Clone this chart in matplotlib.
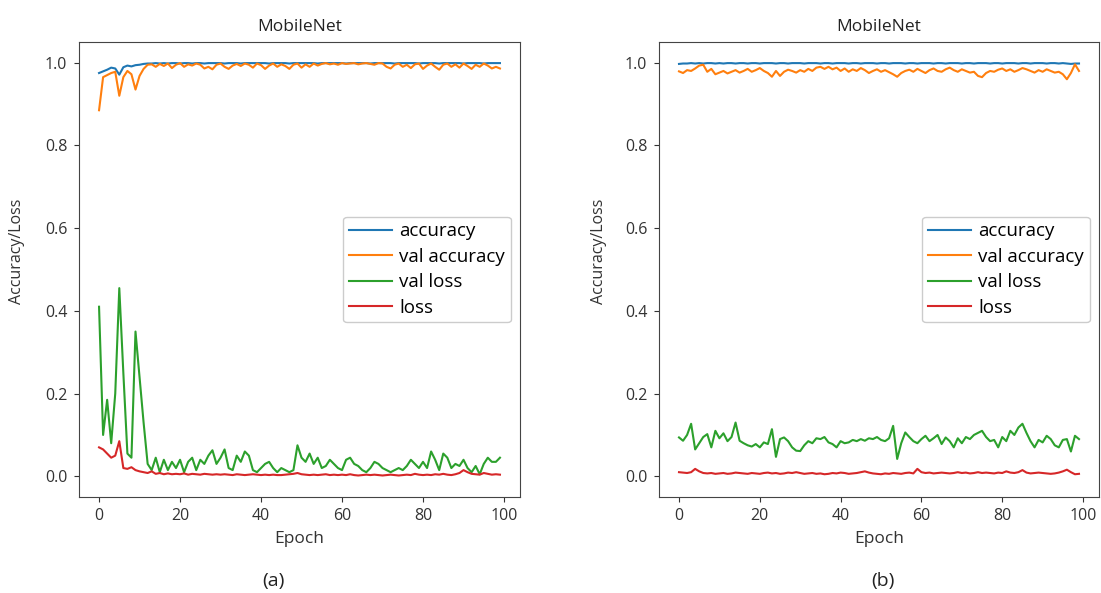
import matplotlib
matplotlib.use("Agg")
import matplotlib.pyplot as plt
import numpy as np

plt.rcParams['font.family'] = ['Open Sans', 'DejaVu Sans']

title = "MobileNet"
series_names = ["accuracy", "val accuracy", "val loss", "loss"]
panel_labels = ["(a)", "(b)"]
yticks = [0.0, 0.2, 0.4, 0.6, 0.8, 1.0]
xticks = [0, 20, 40, 60, 80, 100]

acc_a = [0.975, 0.979, 0.983, 0.988, 0.986, 0.971, 0.989, 0.993, 0.991, 0.994,
         0.995, 0.997, 0.998, 0.998, 0.999, 0.998, 0.999, 0.998, 0.999, 0.999,
         0.998, 0.999, 0.999, 0.998, 0.999, 0.999, 0.998, 0.999, 0.999, 0.999,
         0.999, 0.998, 0.999, 0.999, 0.999, 0.998, 0.999, 0.999, 0.999, 0.999,
         0.999, 0.999, 0.998, 0.999, 0.999, 0.999, 0.999, 0.998, 0.999, 0.999,
         0.999, 0.999, 0.999, 0.999, 0.998, 0.999, 0.999, 0.999, 0.999, 0.999,
         0.999, 0.998, 0.999, 0.999, 0.999, 0.999, 0.999, 0.998, 0.999, 0.999,
         0.999, 0.999, 0.999, 0.998, 0.999, 0.999, 0.999, 0.999, 0.999, 0.998,
         0.999, 0.999, 0.999, 0.999, 0.998, 0.999, 0.999, 0.999, 0.999, 0.999,
         0.998, 0.999, 0.999, 0.999, 0.999, 0.998, 0.999, 0.999, 0.999, 0.999]

val_acc_a = [0.885, 0.965, 0.970, 0.975, 0.978, 0.920, 0.965, 0.980, 0.972, 0.935,
             0.968, 0.985, 0.995, 0.996, 0.990, 0.997, 0.992, 0.998, 0.987, 0.995,
             0.999, 0.990, 0.996, 0.993, 0.998, 0.995, 0.986, 0.990, 0.984, 0.995,
             0.998, 0.990, 0.985, 0.993, 0.997, 0.992, 0.998, 0.995, 0.988, 0.998,
             0.994, 0.985, 0.993, 0.998, 0.990, 0.996, 0.992, 0.985, 0.995, 0.998,
             0.988, 0.996, 0.990, 0.998, 0.993, 0.997, 0.999, 0.996, 0.998, 0.995,
             0.999, 0.997, 0.998, 0.999, 0.996, 0.998, 0.999, 0.997, 0.995, 0.999,
             0.998, 0.990, 0.986, 0.995, 0.998, 0.990, 0.995, 0.987, 0.996, 0.998,
             0.985, 0.993, 0.998, 0.990, 0.983, 0.995, 0.998, 0.990, 0.996, 0.988,
             0.998, 0.992, 0.985, 0.995, 0.990, 0.998, 0.993, 0.986, 0.990, 0.986]

val_loss_a = [0.410, 0.100, 0.185, 0.080, 0.200, 0.455, 0.250, 0.055, 0.045, 0.350,
              0.240, 0.130, 0.030, 0.015, 0.045, 0.010, 0.040, 0.015, 0.035, 0.020,
              0.040, 0.010, 0.035, 0.045, 0.015, 0.040, 0.030, 0.050, 0.063, 0.030,
              0.045, 0.065, 0.020, 0.015, 0.050, 0.035, 0.060, 0.050, 0.015, 0.010,
              0.020, 0.030, 0.035, 0.020, 0.010, 0.020, 0.015, 0.010, 0.015, 0.075,
              0.045, 0.035, 0.055, 0.030, 0.045, 0.020, 0.025, 0.040, 0.030, 0.020,
              0.015, 0.040, 0.045, 0.030, 0.025, 0.015, 0.010, 0.020, 0.035, 0.030,
              0.020, 0.015, 0.010, 0.015, 0.020, 0.015, 0.025, 0.040, 0.030, 0.020,
              0.035, 0.020, 0.060, 0.040, 0.015, 0.055, 0.045, 0.020, 0.030, 0.025,
              0.040, 0.020, 0.010, 0.025, 0.005, 0.030, 0.045, 0.035, 0.035, 0.045]

loss_a = [0.070, 0.065, 0.055, 0.045, 0.050, 0.085, 0.020, 0.018, 0.022, 0.015,
          0.012, 0.010, 0.008, 0.012, 0.006, 0.008, 0.005, 0.007, 0.005, 0.006,
          0.005, 0.007, 0.004, 0.006, 0.005, 0.004, 0.006, 0.005, 0.004, 0.005,
          0.004, 0.005, 0.004, 0.003, 0.005, 0.004, 0.003, 0.004, 0.005, 0.004,
          0.003, 0.004, 0.003, 0.004, 0.003, 0.003, 0.004, 0.005, 0.006, 0.008,
          0.005, 0.004, 0.003, 0.004, 0.003, 0.004, 0.005, 0.003, 0.004, 0.003,
          0.004, 0.003, 0.005, 0.003, 0.002, 0.003, 0.004, 0.003, 0.004, 0.003,
          0.002, 0.003, 0.004, 0.003, 0.002, 0.003, 0.004, 0.003, 0.006, 0.004,
          0.003, 0.004, 0.003, 0.005, 0.004, 0.006, 0.004, 0.003, 0.005, 0.008,
          0.015, 0.010, 0.006, 0.005, 0.004, 0.008, 0.006, 0.004, 0.005, 0.004]

acc_b = [0.997, 0.998, 0.998, 0.999, 0.998, 0.999, 0.998, 0.999, 0.999, 0.998,
         0.999, 0.998, 0.999, 0.999, 0.998, 0.999, 0.999, 0.998, 0.999, 0.999,
         0.998, 0.999, 0.999, 0.999, 0.998, 0.999, 0.999, 0.998, 0.999, 0.999,
         0.999, 0.998, 0.999, 0.999, 0.999, 0.998, 0.999, 0.999, 0.998, 0.999,
         0.999, 0.999, 0.998, 0.999, 0.999, 0.998, 0.999, 0.999, 0.999, 0.998,
         0.999, 0.999, 0.998, 0.999, 0.999, 0.999, 0.998, 0.999, 0.999, 0.998,
         0.999, 0.999, 0.999, 0.998, 0.999, 0.999, 0.998, 0.999, 0.999, 0.999,
         0.998, 0.999, 0.999, 0.998, 0.999, 0.999, 0.999, 0.998, 0.999, 0.999,
         0.998, 0.999, 0.999, 0.999, 0.998, 0.999, 0.999, 0.998, 0.999, 0.999,
         0.999, 0.998, 0.999, 0.999, 0.998, 0.999, 0.998, 0.997, 0.998, 0.998]

val_acc_b = [0.979, 0.975, 0.982, 0.980, 0.986, 0.993, 0.995, 0.978, 0.985, 0.972,
             0.976, 0.980, 0.974, 0.978, 0.982, 0.976, 0.980, 0.985, 0.978, 0.982,
             0.987, 0.980, 0.975, 0.966, 0.980, 0.968, 0.978, 0.983, 0.980, 0.976,
             0.982, 0.978, 0.985, 0.980, 0.988, 0.990, 0.985, 0.990, 0.984, 0.988,
             0.980, 0.986, 0.978, 0.984, 0.980, 0.987, 0.982, 0.975, 0.980, 0.984,
             0.978, 0.982, 0.977, 0.972, 0.966, 0.975, 0.980, 0.983, 0.978, 0.985,
             0.980, 0.975, 0.982, 0.986, 0.980, 0.978, 0.984, 0.988, 0.982, 0.978,
             0.984, 0.980, 0.976, 0.978, 0.968, 0.965, 0.975, 0.980, 0.978, 0.983,
             0.986, 0.980, 0.984, 0.978, 0.982, 0.987, 0.984, 0.980, 0.976, 0.982,
             0.978, 0.984, 0.980, 0.976, 0.978, 0.972, 0.960, 0.975, 0.996, 0.980]

val_loss_b = [0.094, 0.086, 0.100, 0.127, 0.065, 0.080, 0.095, 0.102, 0.070, 0.110,
              0.092, 0.104, 0.085, 0.095, 0.130, 0.086, 0.080, 0.075, 0.072, 0.078,
              0.070, 0.082, 0.078, 0.114, 0.047, 0.090, 0.094, 0.085, 0.070, 0.062,
              0.061, 0.075, 0.085, 0.080, 0.092, 0.090, 0.095, 0.082, 0.078, 0.070,
              0.085, 0.080, 0.082, 0.088, 0.085, 0.090, 0.086, 0.092, 0.090, 0.095,
              0.088, 0.085, 0.092, 0.122, 0.042, 0.080, 0.106, 0.095, 0.085, 0.080,
              0.090, 0.098, 0.085, 0.092, 0.100, 0.078, 0.094, 0.085, 0.070, 0.092,
              0.080, 0.095, 0.090, 0.100, 0.105, 0.110, 0.095, 0.085, 0.088, 0.070,
              0.095, 0.085, 0.110, 0.100, 0.118, 0.127, 0.105, 0.085, 0.070, 0.088,
              0.082, 0.098, 0.090, 0.075, 0.070, 0.088, 0.090, 0.060, 0.098, 0.090]

loss_b = [0.010, 0.009, 0.008, 0.010, 0.018, 0.012, 0.008, 0.007, 0.008, 0.006,
          0.007, 0.008, 0.006, 0.007, 0.009, 0.008, 0.007, 0.006, 0.008, 0.007,
          0.006, 0.008, 0.009, 0.007, 0.008, 0.006, 0.007, 0.009, 0.008, 0.010,
          0.008, 0.006, 0.007, 0.008, 0.006, 0.007, 0.005, 0.006, 0.008, 0.007,
          0.009, 0.008, 0.006, 0.007, 0.008, 0.010, 0.012, 0.009, 0.007, 0.006,
          0.005, 0.007, 0.006, 0.008, 0.007, 0.006, 0.008, 0.009, 0.007, 0.018,
          0.010, 0.008, 0.009, 0.007, 0.008, 0.009, 0.008, 0.007, 0.008, 0.010,
          0.008, 0.009, 0.007, 0.008, 0.010, 0.008, 0.009, 0.008, 0.007, 0.009,
          0.008, 0.012, 0.009, 0.008, 0.010, 0.015, 0.009, 0.007, 0.008, 0.009,
          0.008, 0.007, 0.006, 0.007, 0.009, 0.012, 0.016, 0.010, 0.005, 0.006]

colors = ["#1f77b4", "#ff7f0e", "#2ca02c", "#d62728"]

W, H = 1101, 593
fig = plt.figure(figsize=(W / 100, H / 100), dpi=100)
ax_a = fig.add_axes([79 / W, 96 / H, 441 / W, 455 / H])
ax_b = fig.add_axes([659 / W, 96 / H, 440 / W, 455 / H])

panels = [(ax_a, [acc_a, val_acc_a, val_loss_a, loss_a], -0.122),
          (ax_b, [acc_b, val_acc_b, val_loss_b, loss_b], -0.118)]

for ax, data, ylx in panels:
    for name, vals, c in zip(series_names, data, colors):
        ax.plot(np.arange(len(vals)), vals, color=c, lw=1.5, label=name)
    ax.set_xlim(-4.95, 103.95)
    ax.set_ylim(-0.05, 1.05)
    ax.set_xticks(xticks)
    ax.set_yticks(yticks)
    ax.set_yticklabels([f"{v:.1f}" for v in yticks])
    ax.tick_params(labelsize=11.5, colors="#333333")
    ax.tick_params(axis="y", pad=5)
    ax.tick_params(axis="x", pad=4.5)
    for s in ax.spines.values():
        s.set_color("#444444")
    ax.set_title(title, fontsize=12.5, color="#222222", pad=8)
    ax.set_xlabel("Epoch", fontsize=12.5, color="#333333", labelpad=5)
    ax.set_ylabel("Accuracy/Loss", fontsize=11.5, color="#333333",
                  family=["Liberation Sans Narrow", "Open Sans", "DejaVu Sans"])
    ax.yaxis.set_label_coords(ylx, 0.54)
    ax.legend(loc="center right", fontsize=13.5, framealpha=1.0,
              handlelength=2.3, handletextpad=0.4, labelspacing=0.4,
              borderpad=0.3, borderaxespad=0.5)

fig.text(273 / W, 1 - 581 / H, panel_labels[0], fontsize=14,
         ha="center", va="center", color="#222222")
fig.text(883 / W, 1 - 581 / H, panel_labels[1], fontsize=14,
         ha="center", va="center", color="#222222")

fig.savefig("out.png", dpi=100)
